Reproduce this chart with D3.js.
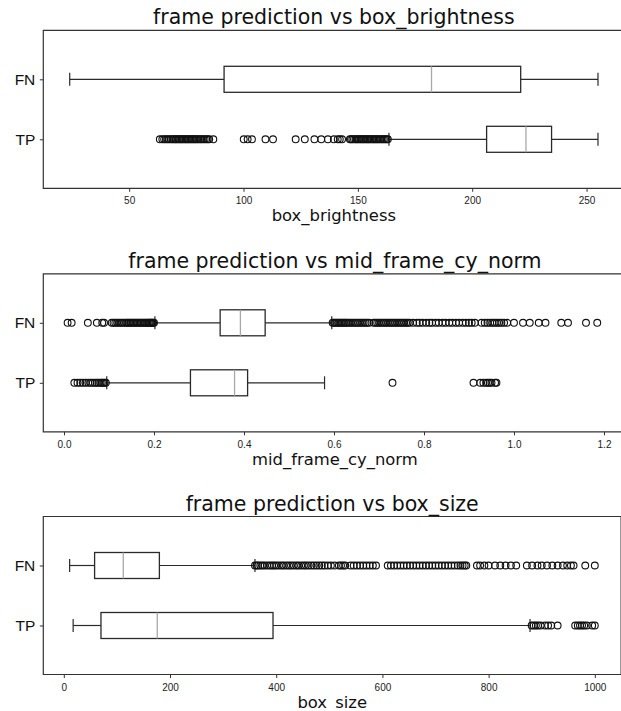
<!DOCTYPE html>
<html>
<head>
<meta charset="utf-8">
<script src="https://cdn.jsdelivr.net/npm/d3@7"></script>
<style>
  body { margin: 0; background: #fff; }
  svg { display: block; font-family: "DejaVu Sans", sans-serif; }
</style>
</head>
<body>
<div id="chart"></div>
<script>
// categories (top to bottom)
const categories = ["FN", "TP"];

// box stats per category: [whisker low, q1, median, q3, whisker high]
const brightnessStats = [[24, 91.5, 182.2, 221.2, 255], [163.6, 206.3, 223.5, 234.7, 255]];
const brightnessOutFN = [];
const brightnessOutTP = [63.4, 64.5, 65.3, 66.1, 66.8, 67.5, 68.2, 68.9, 69.5, 70.1, 70.6, 71.2, 71.8,
  72.3, 72.9, 73.4, 74, 74.6, 75.1, 75.7, 76.2, 76.8, 77.4, 78, 78.5, 79.1, 79.7, 80.3, 81, 81.6, 82.3,
  83, 83.7, 84.4, 85, 86.8, 100.1, 101.8, 103.7, 109.6, 112.9, 122.8, 126.8, 131, 134, 136.9, 139.5,
  141.2, 142.1, 143.1, 146.5, 147, 147.6, 148.3, 149, 149.5, 150, 150.6, 151.2, 151.7, 152.3, 152.8,
  153.4, 154, 154.5, 155, 155.6, 156.2, 156.8, 157.3, 157.9, 158.4, 159, 159.6, 160.2, 160.8, 161.4,
  162, 162.6, 163.1];
const brightnessTicks = [50, 100, 150, 200, 250];

const cyStats = [[0.202, 0.347, 0.392, 0.447, 0.595], [0.095, 0.281, 0.379, 0.408, 0.579]];
const cyOutFN = [0.008, 0.017, 0.053, 0.073, 0.085, 0.089, 0.106, 0.11, 0.114, 0.118, 0.122, 0.126,
  0.13, 0.134, 0.138, 0.141, 0.144, 0.147, 0.15, 0.153, 0.156, 0.159, 0.162, 0.165, 0.168, 0.171,
  0.174, 0.177, 0.18, 0.183, 0.185, 0.188, 0.19, 0.192, 0.194, 0.196, 0.198, 0.2,
  0.597, 0.6, 0.603, 0.606, 0.609, 0.612, 0.615, 0.618, 0.621, 0.624, 0.627, 0.63, 0.634, 0.638,
  0.642, 0.646, 0.65, 0.654, 0.658, 0.662, 0.666, 0.67, 0.674, 0.678, 0.688, 0.692, 0.696, 0.7,
  0.704, 0.708, 0.712, 0.716, 0.72, 0.724, 0.728, 0.732, 0.736, 0.74, 0.744, 0.748, 0.752, 0.756,
  0.76, 0.764, 0.768, 0.776, 0.784, 0.79, 0.797, 0.805, 0.812, 0.818, 0.826, 0.833, 0.841, 0.848,
  0.856, 0.863, 0.871, 0.878, 0.886, 0.893, 0.9, 0.906, 0.913, 0.928, 0.935, 0.941, 0.947, 0.952,
  0.957, 0.962, 0.967, 0.972, 0.978, 0.985, 1.0, 1.02, 1.035, 1.055, 1.07, 1.105, 1.12, 1.16, 1.185];
const cyOutTP = [0.023, 0.03, 0.036, 0.042, 0.048, 0.054, 0.059, 0.064, 0.069, 0.073, 0.077, 0.081,
  0.084, 0.087, 0.09, 0.093, 0.73, 0.91, 0.925, 0.932, 0.938, 0.942, 0.946, 0.95, 0.958, 0.961];
const cyTicks = [0.0, 0.2, 0.4, 0.6, 0.8, 1.0, 1.2];

const sizeStats = [[11, 58, 112, 180, 360], [17.6, 70, 176, 394, 878]];
const sizeOutFN = [360, 363, 366, 370, 374, 378, 383, 388, 392, 396, 400, 405, 410, 414, 419, 424,
  428, 433, 438, 442, 447, 452, 456, 461, 466, 471, 476, 481, 486, 491, 497, 503, 510, 518, 522, 526,
  530, 540, 546, 552, 558, 564, 570, 576, 582, 588, 610, 616, 622, 628, 634, 640, 646, 652, 658, 664,
  670, 676, 682, 688, 694, 700, 706, 712, 718, 724, 730, 736, 742, 747, 751, 755, 758, 778, 784, 792,
  800, 812, 822, 832, 842, 852, 872, 882, 892, 900, 910, 920, 930, 940, 948, 955, 960, 982, 1000];
const sizeOutTP = [881, 885, 889, 893, 898, 906, 912, 918, 930, 963, 968, 972, 976, 980, 985, 995, 1000];
const sizeTicks = [0, 200, 400, 600, 800, 1000];

const width = 621, height = 711;
const svg = d3.select("#chart").append("svg")
  .attr("width", width)
  .attr("height", height);

function drawPanel(cfg) {
  const top = cfg.top, bottom = cfg.top + 158;
  const left = 43.3, right = cfg.right;
  const g = svg.append("g");

  const x = d3.scaleLinear().domain(cfg.domain).range([left, right]);
  const y = d3.scalePoint().domain(categories).range([top, bottom]).padding(0.8167);

  // x axis
  const xAxis = g.append("g")
    .attr("transform", `translate(0,${bottom})`)
    .call(d3.axisBottom(x).tickValues(cfg.ticks).tickSize(3.5).tickPadding(5.4)
      .tickFormat(cfg.format));
  xAxis.select(".domain").remove();
  xAxis.selectAll("text").style("font-size", "10px").attr("fill", "#222");
  xAxis.selectAll("line").attr("stroke", "#333");

  // y axis
  const yAxis = g.append("g")
    .attr("transform", `translate(${left},0)`)
    .call(d3.axisLeft(y).tickSize(3.5).tickPadding(4.5));
  yAxis.select(".domain").remove();
  yAxis.selectAll("text").style("font-size", "15.5px").attr("fill", "#111");
  yAxis.selectAll("line").attr("stroke", "#333");

  // spines
  g.append("path")
    .attr("d", `M${right},${top}H${left}V${bottom}H${right}V${top}`)
    .attr("fill", "none")
    .attr("stroke", "#333")
    .attr("stroke-width", 1.2);

  // boxes
  const boxH = 26, capH = 13;
  cfg.stats.forEach((s, i) => {
    const cy = y(categories[i]);
    const stroke = "#2a2a2a";
    // whiskers
    g.append("line").attr("x1", x(s[0])).attr("x2", x(s[1])).attr("y1", cy).attr("y2", cy)
      .attr("stroke", stroke).attr("stroke-width", 1.2);
    g.append("line").attr("x1", x(s[3])).attr("x2", x(s[4])).attr("y1", cy).attr("y2", cy)
      .attr("stroke", stroke).attr("stroke-width", 1.2);
    // caps
    [s[0], s[4]].forEach(v => {
      g.append("line").attr("x1", x(v)).attr("x2", x(v))
        .attr("y1", cy - capH / 2).attr("y2", cy + capH / 2)
        .attr("stroke", stroke).attr("stroke-width", 1.2);
    });
    // box
    g.append("rect")
      .attr("x", x(s[1])).attr("y", cy - boxH / 2)
      .attr("width", x(s[3]) - x(s[1])).attr("height", boxH)
      .attr("fill", "none").attr("stroke", stroke).attr("stroke-width", 1.3);
    // median
    g.append("line").attr("x1", x(s[2])).attr("x2", x(s[2]))
      .attr("y1", cy - boxH / 2).attr("y2", cy + boxH / 2)
      .attr("stroke", "#a8a8a8").attr("stroke-width", 1.3);
    // fliers
    g.append("g").selectAll("circle")
      .data(cfg.outliers[i])
      .join("circle")
      .attr("cx", d => x(d))
      .attr("cy", cy)
      .attr("r", 3.4)
      .attr("fill", "none")
      .attr("stroke", "#111")
      .attr("stroke-width", 1.1);
  });

  // title
  g.append("text")
    .attr("x", (left + right) / 2)
    .attr("y", top - 6)
    .attr("text-anchor", "middle")
    .style("font-size", "20.5px")
    .attr("fill", "#111")
    .text(cfg.title);

  // x label
  g.append("text")
    .attr("x", (left + right) / 2)
    .attr("y", bottom + 33)
    .attr("text-anchor", "middle")
    .style("font-size", "16.4px")
    .attr("fill", "#111")
    .text(cfg.label);
}

drawPanel({
  top: 30.3, right: 624.4, domain: [12.45, 266.55],
  ticks: brightnessTicks, format: d3.format("d"),
  stats: brightnessStats, outliers: [brightnessOutFN, brightnessOutTP],
  title: "frame prediction vs box_brightness", label: "box_brightness"
});

drawPanel({
  top: 273.8, right: 626.5, domain: [-0.046, 1.25],
  ticks: cyTicks, format: d3.format(".1f"),
  stats: cyStats, outliers: [cyOutFN, cyOutTP],
  title: "frame prediction vs mid_frame_cy_norm", label: "mid_frame_cy_norm"
});

drawPanel({
  top: 516.5, right: 621.1, domain: [-38.6, 1049.5],
  ticks: sizeTicks, format: d3.format("d"),
  stats: sizeStats, outliers: [sizeOutFN, sizeOutTP],
  title: "frame prediction vs box_size", label: "box_size"
});
</script>
</body>
</html>
